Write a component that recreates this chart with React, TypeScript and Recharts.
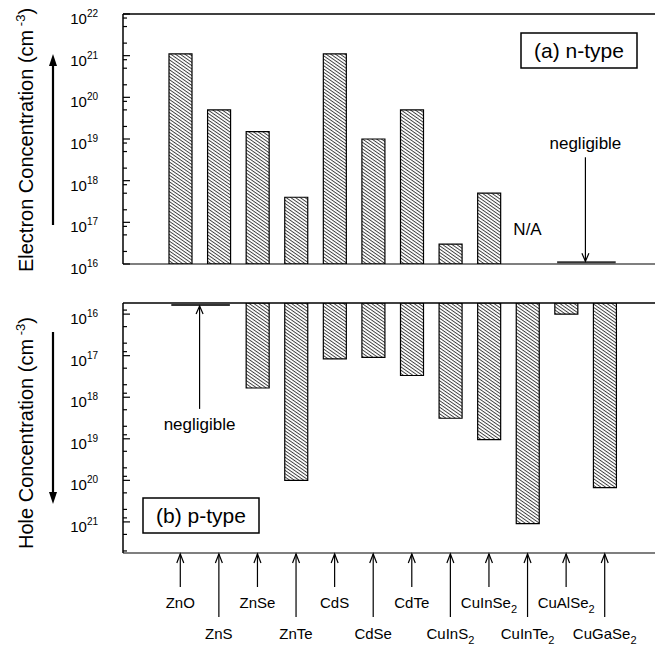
import React from "react";
import { BarChart, Bar, XAxis, YAxis, ReferenceLine, ReferenceDot, Customized } from "recharts";

const MATERIALS = ["ZnO", "ZnS", "ZnSe", "ZnTe", "CdS", "CdSe", "CdTe", "CuInS2", "CuInSe2", "CuInTe2", "CuAlSe2", "CuGaSe2"];
const ELECTRON_CONC = [1.1e21, 5e19, 1.5e19, 4e17, 1.1e21, 1e19, 5e19, 3e16, 5e17, null, null, null];
const HOLE_CONC = [null, null, 6e17, 1e20, 1.2e17, 1.1e17, 3e17, 3.2e18, 1.05e19, 1.1e21, 1e16, 1.5e20];

const N_NEGLIGIBLE = ["CuAlSe2", "CuGaSe2"];
const P_NEGLIGIBLE = ["ZnO", "ZnS"];
const NA_MATERIAL = "CuInTe2";

const N_DOMAIN = [1e16, 1e22];
const P_DOMAIN = [5.4e15, 5.6e21];
const N_MAJOR = [1e16, 1e17, 1e18, 1e19, 1e20, 1e21, 1e22];
const N_MINOR = [2e16, 5e16, 8e16, 2e17, 5e17, 8e17, 2e18, 5e18, 8e18, 2e19, 5e19, 8e19, 2e20, 5e20, 8e20, 2e21, 5e21, 8e21];
const P_MAJOR = [1e16, 1e17, 1e18, 1e19, 1e20, 1e21];
const P_MINOR = [8e15, 2e16, 5e16, 8e16, 2e17, 5e17, 8e17, 2e18, 5e18, 8e18, 2e19, 5e19, 8e19, 2e20, 5e20, 8e20, 2e21, 5e21];

const FONT = "'Liberation Sans', Arial, Helvetica, sans-serif";
const data = MATERIALS.map((name, i) => ({ name, n: ELECTRON_CONC[i], p: HOLE_CONC[i] }));
const nTicks = [...N_MAJOR, ...N_MINOR].sort((a, b) => a - b);
const pTicks = [...P_MAJOR, ...P_MINOR].sort((a, b) => a - b);

const isMajor = (v: number) => Math.abs(Math.log10(v) - Math.round(Math.log10(v))) < 1e-6;

function LeftTick(props: any) {
  const { x, y, payload } = props;
  const v = payload.value;
  const major = isMajor(v);
  return (
    <g>
      <line x1={x} x2={x + (major ? 7 : 4)} y1={y} y2={y} stroke="#000" strokeWidth={1.2} />
      {major && (
        <text x={x - 25} y={y + 10} textAnchor="end" fontSize={15} fontFamily={FONT} fill="#000">
          10<tspan dy={-7} fontSize={10}>{Math.round(Math.log10(v))}</tspan>
        </text>
      )}
    </g>
  );
}

function RightTick(props: any) {
  const { x, y, payload } = props;
  const major = isMajor(payload.value);
  return <line x1={x} x2={x - (major ? 7 : 3)} y1={y} y2={y} stroke="#666" strokeWidth={1.2} />;
}

function MaterialTick(props: any) {
  const { x, y, payload, index } = props;
  const low = index % 2 === 1;
  const m = /^(.*?)(\d)$/.exec(payload.value);
  return (
    <g>
      <line x1={x} y1={y + 1} x2={x} y2={y + (low ? 64 : 34)} stroke="#000" strokeWidth={1.2} />
      <polyline points={`${x - 3.5},${y + 10} ${x},${y + 1} ${x + 3.5},${y + 10}`} fill="none" stroke="#000" strokeWidth={1.2} />
      <text x={x} y={y + (low ? 86 : 55)} textAnchor="middle" fontSize={15} fontFamily={FONT} fill="#000">
        {m ? (
          <>
            {m[1]}
            <tspan dy={5} fontSize={11}>{m[2]}</tspan>
          </>
        ) : (
          payload.value
        )}
      </text>
    </g>
  );
}

function negligibleShape(dir: "down" | "up") {
  return (p: any) => {
    const { x1, x2, y1 } = p;
    const mid = (x1 + x2) / 2;
    const tip = dir === "down" ? y1 - 1 : y1 + 1;
    const tail = dir === "down" ? y1 - 105 : y1 + 104;
    const head = dir === "down" ? -8 : 8;
    return (
      <g>
        <line x1={x1 - 9} x2={x2 + 11} y1={y1} y2={y1} stroke="#333" strokeWidth={2} />
        <line x1={mid} x2={mid} y1={tail} y2={tip} stroke="#000" strokeWidth={1.2} />
        <polyline points={`${mid - 3.5},${tip + head} ${mid},${tip} ${mid + 3.5},${tip + head}`} fill="none" stroke="#000" strokeWidth={1.2} />
        <text x={mid} y={dir === "down" ? y1 - 113 : y1 + 125} textAnchor="middle" fontSize={17} fontFamily={FONT} fill="#000">
          negligible
        </text>
      </g>
    );
  };
}

function TopDecor() {
  return (
    <g fontFamily={FONT} fill="#000">
      <text transform="translate(33,140) rotate(-90)" textAnchor="middle" fontSize={20}>
        Electron Concentration (cm<tspan dy={-8} fontSize={13}> -3</tspan><tspan dy={8}>)</tspan>
      </text>
      <line x1={53} x2={53} y1={225} y2={64} stroke="#000" strokeWidth={2.2} />
      <polygon points="53,54 49,66 57,66" fill="#000" />
      <rect x={521} y={33} width={116} height={35} fill="#fff" stroke="#000" strokeWidth={1.5} />
      <text x={579} y={58} textAnchor="middle" fontSize={21}>(a) n-type</text>
    </g>
  );
}

function BottomDecor() {
  return (
    <g fontFamily={FONT} fill="#000">
      <text transform="translate(33,143) rotate(-90)" textAnchor="middle" fontSize={20}>
        Hole Concentration (cm<tspan dy={-8} fontSize={13}> -3</tspan><tspan dy={8}>)</tspan>
      </text>
      <line x1={53} x2={53} y1={42} y2={203} stroke="#000" strokeWidth={2.2} />
      <polygon points="53,214 49,202 57,202" fill="#000" />
      <rect x={143} y={208} width={116} height={35} fill="#fff" stroke="#000" strokeWidth={1.5} />
      <text x={201} y={233} textAnchor="middle" fontSize={21}>(b) p-type</text>
    </g>
  );
}

function Hatch({ id }: { id: string }) {
  return (
    <defs>
      <pattern id={id} patternUnits="userSpaceOnUse" width={2.7} height={2.7} patternTransform="rotate(35)">
        <rect width={2.7} height={2.7} fill="#fff" />
        <line x1={0} y1={0.5} x2={2.7} y2={0.5} stroke="#333" strokeWidth={0.9} />
      </pattern>
    </defs>
  );
}

const PAD = { left: 38, right: 31 };

export default function App() {
  return (
    <div style={{ position: "absolute", left: 0, top: 0, width: 657, height: 648, background: "#fff", fontFamily: FONT }}>
      <div style={{ position: "absolute", left: 0, top: 0 }}>
        <BarChart width={657} height={290} data={data} margin={{ top: 14, right: 2, bottom: 0, left: 0 }}>
          <Hatch id="hatchN" />
          <XAxis dataKey="name" height={26} tick={false} tickLine={false} padding={PAD} axisLine={{ stroke: "#000", strokeWidth: 1.2 }} />
          <YAxis
            scale="log" type="number" domain={N_DOMAIN} allowDataOverflow ticks={nTicks} interval={0}
            width={123} tickSize={0} tickMargin={0} tickLine={false} tick={<LeftTick />}
            axisLine={{ stroke: "#000", strokeWidth: 1.5 }}
          />
          <YAxis
            yAxisId="r" orientation="right" scale="log" type="number" domain={N_DOMAIN} allowDataOverflow
            ticks={nTicks} interval={0} width={0} tickSize={0} tickMargin={0} tickLine={false} tick={<RightTick />}
            axisLine={{ stroke: "#aaa" }}
          />
          <ReferenceLine y={N_DOMAIN[1]} stroke="#000" strokeWidth={1.5} />
          <Bar dataKey="n" fill="url(#hatchN)" stroke="#000" strokeWidth={1.2} barSize={23} isAnimationActive={false} />
          <ReferenceLine
            segment={[{ x: N_NEGLIGIBLE[0], y: 1.1e16 }, { x: N_NEGLIGIBLE[1], y: 1.1e16 }]}
            ifOverflow="visible"
            shape={negligibleShape("down")}
          />
          <ReferenceDot
            x={NA_MATERIAL} y={7e16} r={2} fill="none" stroke="none"
            label={{ value: "N/A", position: "center", fontSize: 17, fill: "#000", fontFamily: FONT }}
          />
          <Customized component={TopDecor} />
        </BarChart>
      </div>
      <div style={{ position: "absolute", left: 0, top: 290 }}>
        <BarChart width={657} height={358} data={data} margin={{ top: 13, right: 2, bottom: 0, left: 0 }}>
          <Hatch id="hatchP" />
          <XAxis
            dataKey="name" height={95} interval={0} tickSize={0} tickMargin={0} tickLine={false}
            tick={<MaterialTick />} padding={PAD} axisLine={{ stroke: "#000", strokeWidth: 1.2 }}
          />
          <YAxis
            scale="log" type="number" domain={P_DOMAIN} allowDataOverflow reversed ticks={pTicks} interval={0}
            width={123} tickSize={0} tickMargin={0} tickLine={false} tick={<LeftTick />}
            axisLine={{ stroke: "#000", strokeWidth: 1.5 }}
          />
          <YAxis
            yAxisId="r" orientation="right" scale="log" type="number" domain={P_DOMAIN} allowDataOverflow reversed
            ticks={pTicks} interval={0} width={0} tickSize={0} tickMargin={0} tickLine={false} tick={<RightTick />}
            axisLine={{ stroke: "#aaa" }}
          />
          <ReferenceLine y={P_DOMAIN[0]} stroke="#000" strokeWidth={1.5} />
          <Bar dataKey="p" fill="url(#hatchP)" stroke="#000" strokeWidth={1.2} barSize={23} isAnimationActive={false} />
          <ReferenceLine
            segment={[{ x: P_NEGLIGIBLE[0], y: 6e15 }, { x: P_NEGLIGIBLE[1], y: 6e15 }]}
            ifOverflow="visible"
            shape={negligibleShape("up")}
          />
          <Customized component={BottomDecor} />
        </BarChart>
      </div>
    </div>
  );
}
